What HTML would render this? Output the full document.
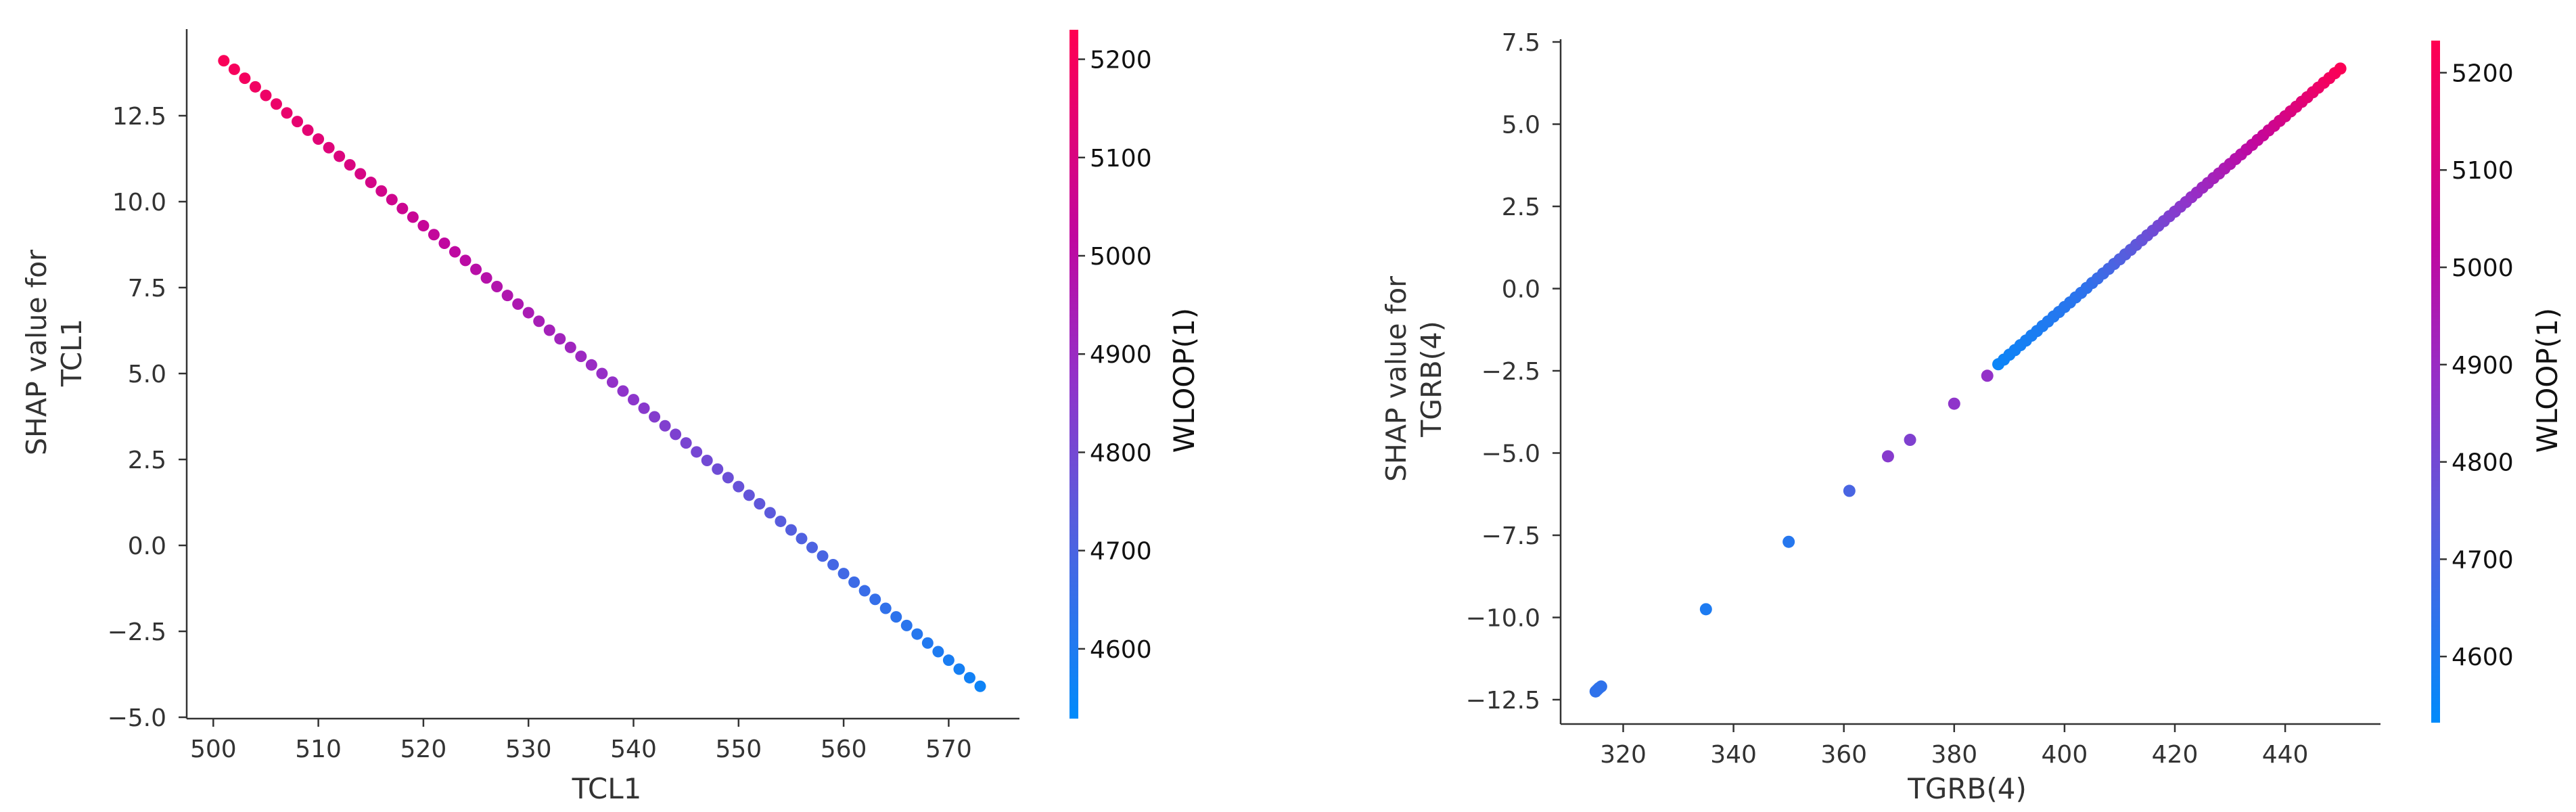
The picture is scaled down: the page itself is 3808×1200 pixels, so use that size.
<!DOCTYPE html>
<html><head><meta charset="utf-8"><style>
html,body{margin:0;padding:0;background:#fff;}
svg{display:block;font-family:"DejaVu Sans","Liberation Sans",sans-serif;}
</style></head><body>
<svg id="chart" width="3808" height="1200" viewBox="0 0 3808 1200">
<defs>
<linearGradient id="cmap" x1="0" y1="1" x2="0" y2="0">
<stop offset="0" stop-color="#008bfb"/><stop offset="0.3" stop-color="#5b5bdc"/><stop offset="0.5" stop-color="#9430c8"/><stop offset="0.7" stop-color="#c0079f"/><stop offset="1" stop-color="#ff0051"/>
</linearGradient>
</defs>
</svg>
<script>
// Left plot data
const leftX = [501,502,503,504,505,506,507,508,509,510,511,512,513,514,515,516,517,518,519,520,521,522,523,524,525,526,527,528,529,530,531,532,533,534,535,536,537,538,539,540,541,542,543,544,545,546,547,548,549,550,551,552,553,554,555,556,557,558,559,560,561,562,563,564,565,566,567,568,569,570,571,572,573];
const leftY = [14.10,13.85,13.59,13.34,13.09,12.84,12.58,12.33,12.08,11.82,11.57,11.32,11.07,10.81,10.56,10.31,10.06,9.80,9.55,9.30,9.04,8.79,8.54,8.29,8.03,7.78,7.53,7.27,7.02,6.77,6.52,6.26,6.01,5.76,5.50,5.25,5.00,4.75,4.49,4.24,3.99,3.74,3.48,3.23,2.98,2.72,2.47,2.22,1.97,1.71,1.46,1.21,0.95,0.70,0.45,0.20,-0.06,-0.31,-0.56,-0.82,-1.07,-1.32,-1.57,-1.83,-2.08,-2.33,-2.58,-2.84,-3.09,-3.34,-3.60,-3.85,-4.10];
const leftC = [5210,5201,5192,5183,5174,5165,5156,5147,5138,5129,5120,5111,5102,5093,5084,5075,5066,5057,5048,5039,5030,5021,5012,5003,4994,4985,4976,4967,4958,4949,4940,4931,4922,4913,4904,4895,4886,4877,4868,4859,4850,4841,4832,4823,4814,4805,4796,4787,4778,4769,4760,4751,4742,4733,4724,4715,4706,4697,4688,4679,4670,4661,4652,4643,4634,4625,4616,4607,4598,4589,4580,4571,4562];
const leftXTicks = [500,510,520,530,540,550,560,570];
const leftYTicks = [-5.0,-2.5,0.0,2.5,5.0,7.5,10.0,12.5];
const cbTicks = [4600,4700,4800,4900,5000,5100,5200];
// Right plot data
const rightX = [315,315.3,315.6,316,335,350,361,368,372,380,386,388,389,390,391,392,393,394,395,396,397,398,399,400,401,402,403,404,405,406,407,408,409,410,411,412,413,414,415,416,417,418,419,420,421,422,423,424,425,426,427,428,429,430,431,432,433,434,435,436,437,438,439,440,441,442,443,444,445,446,447,448,449,450];
const rightY = [-12.25,-12.2,-12.15,-12.1,-9.75,-7.7,-6.15,-5.1,-4.6,-3.5,-2.65,-2.30,-2.16,-2.01,-1.87,-1.72,-1.58,-1.43,-1.29,-1.14,-1.00,-0.85,-0.71,-0.56,-0.42,-0.27,-0.13,0.02,0.17,0.31,0.46,0.60,0.75,0.89,1.04,1.18,1.33,1.47,1.62,1.76,1.91,2.05,2.20,2.34,2.49,2.63,2.78,2.92,3.07,3.21,3.36,3.50,3.65,3.79,3.94,4.08,4.23,4.37,4.52,4.66,4.81,4.95,5.10,5.24,5.39,5.53,5.68,5.82,5.97,6.11,6.26,6.40,6.55,6.69];
const rightC = [4640,4640,4640,4640,4600,4620,4700,4850,4830,4870,4880,4560,4565,4570,4575,4580,4585,4590,4595,4600,4605,4610,4615,4620,4625,4630,4635,4640,4653,4665,4678,4690,4703,4716,4728,4741,4753,4766,4779,4791,4804,4816,4829,4842,4854,4867,4879,4892,4905,4917,4930,4942,4955,4968,4980,4993,5005,5018,5031,5043,5056,5068,5081,5094,5106,5119,5131,5144,5157,5169,5182,5194,5207,5220];
const rightXTicks = [320,340,360,380,400,420,440];
const rightYTicks = [-12.5,-10.0,-7.5,-5.0,-2.5,0.0,2.5,5.0,7.5];

const NS = "http://www.w3.org/2000/svg";
const svg = document.getElementById('chart');
const stops = [[0,[0,139,251]],[0.3,[91,91,220]],[0.5,[148,48,200]],[0.7,[192,7,159]],[1,[255,0,81]]];
function cmap(t){t=Math.max(0,Math.min(1,t));for(let i=1;i<stops.length;i++){if(t<=stops[i][0]){const a=stops[i-1],b=stops[i];const f=(t-a[0])/(b[0]-a[0]);const c=a[1].map((v,j)=>Math.round(v+(b[1][j]-v)*f));return `rgb(${c})`;}}return 'rgb(255,0,81)';}
function el(tag,attrs,parent){const e=document.createElementNS(NS,tag);for(const k in attrs)e.setAttribute(k,attrs[k]);(parent||svg).appendChild(e);return e;}
function fmt(v){return (v<0?'\u2212':'')+Math.abs(v).toFixed(1);}

function panel(cfg){
  const g=el('g',{});
  
  
  const sx=v=>cfg.px0+(v-cfg.x0)*cfg.pxPerX;
  const sy=v=>cfg.py0-(v-cfg.y0)*cfg.pxPerY;
  const ys=el('line',{x1:cfg.left,y1:cfg.top,x2:cfg.left,y2:cfg.bottom,stroke:'#333',"stroke-width":2.5},g);
  
  
  const xs=el('line',{x1:cfg.left,y1:cfg.bottom,x2:cfg.right,y2:cfg.bottom,stroke:'#333',"stroke-width":2.5},g);
  
  
  cfg.xt.forEach(v=>{const x=sx(v);
    el('line',{x1:x,y1:cfg.bottom,x2:x,y2:cfg.bottom+12,stroke:'#333',"stroke-width":2.5},g);
    const t=el('text',{x:x,y:cfg.bottom+57,"text-anchor":'middle',"font-size":36,fill:'#333'},g);t.textContent=v;
    
    });
  cfg.yt.forEach(v=>{const y=sy(v);
    el('line',{x1:cfg.left-12,y1:y,x2:cfg.left,y2:y,stroke:'#333',"stroke-width":2.5},g);
    const t=el('text',{x:cfg.left-30,y:y+13,"text-anchor":'end',"font-size":36,fill:'#333'},g);t.textContent=fmt(v);
    
    });
  cfg.X.forEach((v,i)=>{const c=el('circle',{cx:sx(v),cy:sy(cfg.Y[i]),r:cfg.r,fill:cmap((cfg.C[i]-cfg.c0)/(cfg.c1-cfg.c0))},g);
    
    });
  const xl=el('text',{x:cfg.xlx,y:1180,"text-anchor":'middle',"font-size":42,fill:'#333'},g);xl.textContent=cfg.xlabel;
  
  
  const yl=el('text',{transform:`translate(${cfg.ylx},${cfg.yly}) rotate(-90)`,"text-anchor":'middle',"font-size":41,fill:'#333'},g);
  
  
  const t1=el('tspan',{x:0,y:0},yl);t1.textContent='SHAP value for';
  const t2=el('tspan',{x:0,y:52},yl);t2.textContent=cfg.ylabel;
  const cb=el('rect',{x:cfg.cbx,y:cfg.cbTop,width:13,height:cfg.cbBot-cfg.cbTop,fill:'url(#cmap)'},g);
  
  
  const cy=v=>cfg.cbBot-(v-cfg.c0)/(cfg.c1-cfg.c0)*(cfg.cbBot-cfg.cbTop);
  cbTicks.forEach(v=>{const y=cy(v);
    el('line',{x1:cfg.cbx+13,y1:y,x2:cfg.cbx+23,y2:y,stroke:'#333',"stroke-width":2.5},g);
    const t=el('text',{x:cfg.cbx+30,y:y+13,"font-size":36,fill:'#111'},g);t.textContent=v;
    
    });
  const cl=el('text',{transform:`translate(${cfg.cblx},${cfg.cbly}) rotate(-90)`,"text-anchor":'middle',"font-size":42,fill:'#111'},g);cl.textContent='WLOOP(1)';
  
  
}

panel({name:'tcl1-dependence-plot',left:276,right:1507,top:43,bottom:1062,
  px0:315.3,x0:500,pxPerX:15.53,py0:1060,y0:-5,pxPerY:50.8,
  xt:leftXTicks,yt:leftYTicks,X:leftX,Y:leftY,C:leftC,r:8.5,c0:4529,c1:5230,
  xlabel:'TCL1',xlx:897,ylabel:'TCL1',ylx:68,yly:521,
  cbx:1581,cbTop:44,cbBot:1062,cblx:1765,cbly:562});
panel({name:'tgrb4-dependence-plot',left:2307,right:3519,top:58,bottom:1070,
  px0:2399.5,x0:320,pxPerX:8.155,py0:1034,y0:-12.5,pxPerY:48.6,
  xt:rightXTicks,yt:rightYTicks,X:rightX,Y:rightY,C:rightC,r:9,c0:4532,c1:5233,
  xlabel:'TGRB(4)',xlx:2908,ylabel:'TGRB(4)',ylx:2078,yly:560,
  cbx:3594,cbTop:60,cbBot:1068,cblx:3780,cbly:562});
</script>
</body></html>
